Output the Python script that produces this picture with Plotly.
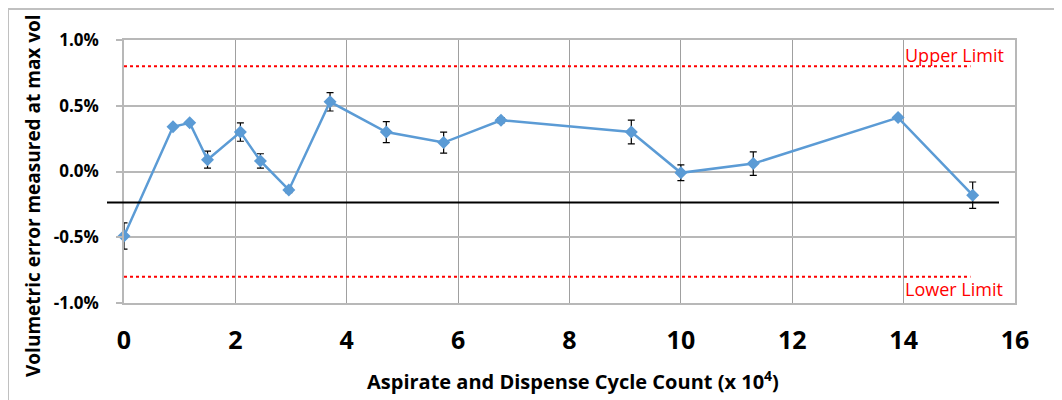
import plotly.graph_objects as go

# Data (x in units of 10^4 cycles, y in %)
cycles = [0.0, 0.88, 1.18, 1.5, 2.09, 2.45, 2.96, 3.7, 4.71, 5.74, 6.77, 9.11, 10.0, 11.3, 13.9, 15.24]
vol_error = [-0.49, 0.34, 0.37, 0.09, 0.30, 0.08, -0.14, 0.53, 0.30, 0.22, 0.39, 0.30, -0.01, 0.06, 0.41, -0.18]
err = [0.10, 0.01, 0.01, 0.065, 0.07, 0.055, 0.02, 0.07, 0.08, 0.08, 0.02, 0.09, 0.06, 0.09, 0.01, 0.10]

upper_limit = 0.8
lower_limit = -0.8
mean_line = -0.235
limit_x_end = 15.2

x_ticks = [0, 2, 4, 6, 8, 10, 12, 14, 16]
y_ticks = [-1.0, -0.5, 0.0, 0.5, 1.0]

FONT = "Open Sans"

# plot area in page pixels: x 124..1015, y 40..303
PW, PH = 891, 263


def px_x(p):
    return (p - 124) / PW


def px_y(p):
    return (303 - p) / PH


fig = go.Figure()

fig.add_trace(go.Scatter(
    x=cycles, y=vol_error, mode="lines+markers",
    line=dict(color="#5B9BD5", width=2.5),
    marker=dict(symbol="diamond", size=10, color="#5B9BD5"),
    error_y=dict(type="data", array=err, visible=True, color="black", thickness=1.2, width=3.5),
    showlegend=False, cliponaxis=False,
))

# Limit lines
for yv in (upper_limit, lower_limit):
    fig.add_trace(go.Scatter(
        x=[0, limit_x_end], y=[yv, yv], mode="lines",
        line=dict(color="red", width=2, dash="dot"),
        showlegend=False, hoverinfo="skip",
    ))

# Black reference line (extends slightly left of plot)
fig.add_shape(type="line", xref="paper", yref="y",
              x0=px_x(107), x1=px_x(999), y0=mean_line, y1=mean_line,
              line=dict(color="black", width=2))

# Chart-area border (left and top)
fig.add_shape(type="line", xref="paper", yref="paper",
              x0=px_x(8), x1=1.2, y0=px_y(9), y1=px_y(9),
              line=dict(color="#c0c0c0", width=2))
fig.add_shape(type="line", xref="paper", yref="paper",
              x0=px_x(8), x1=px_x(8), y0=px_y(9), y1=-0.6,
              line=dict(color="#c0c0c0", width=2))

fig.add_annotation(text="Upper Limit", xref="paper", yref="y",
                   x=px_x(903), y=0.886, xanchor="left", yanchor="middle",
                   showarrow=False, font=dict(family=FONT, size=18, color="red"))
fig.add_annotation(text="Lower Limit", xref="paper", yref="y",
                   x=px_x(903), y=-0.89, xanchor="left", yanchor="middle",
                   showarrow=False, font=dict(family=FONT, size=18, color="red"))

fig.add_annotation(text="<b>Volumetric error measured at max vol</b>", xref="paper", yref="paper",
                   x=px_x(33), y=px_y(196), textangle=-90,
                   xanchor="center", yanchor="middle", showarrow=False,
                   font=dict(family=FONT, size=19, color="black"))
fig.add_annotation(text="<b>Aspirate and Dispense Cycle Count (x 10<sup>4</sup>)</b>", xref="paper", yref="paper",
                   x=px_x(573), y=px_y(380),
                   xanchor="center", yanchor="middle", showarrow=False,
                   font=dict(family=FONT, size=20, color="black"))

fig.update_layout(
    width=1054, height=392,
    margin=dict(l=116, r=47, t=32, b=97, autoexpand=False),
    paper_bgcolor="white", plot_bgcolor="white",
    font=dict(family=FONT, color="black"),
    xaxis=dict(range=[0, 16], tickvals=x_ticks, ticktext=[f"<b>{v}</b>" for v in x_ticks],
               showgrid=True, gridcolor="#a0a0a0", gridwidth=1.2,
               zeroline=False, showline=True, linecolor="#b8b8b8", linewidth=1.5, mirror=True,
               ticks="", ticklabelstandoff=14, tickfont=dict(size=25, family=FONT)),
    yaxis=dict(range=[-1.0, 1.0], tickvals=y_ticks,
               ticktext=[f"<b>{v:.1f}%</b>" for v in y_ticks],
               showgrid=True, gridcolor="#b8b8b8", gridwidth=1.5,
               zeroline=False, showline=True, linecolor="#b8b8b8", linewidth=1.5, mirror=True,
               ticks="outside", ticklen=6, tickcolor="#b8b8b8", tickwidth=1.5,
               ticklabelstandoff=14, tickfont=dict(size=17, family=FONT)),
)

fig.write_html("out.html")
